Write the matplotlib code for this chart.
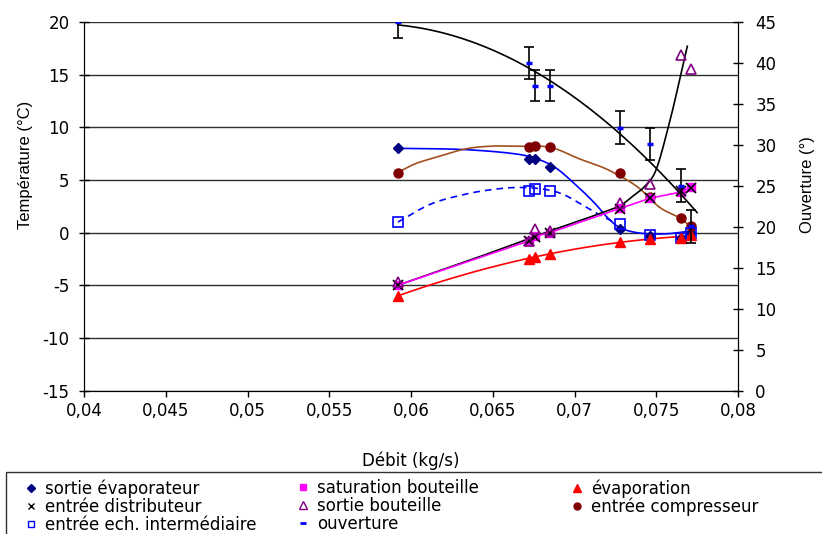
import numpy as np
import matplotlib
matplotlib.use('Agg')
import matplotlib.pyplot as plt
from matplotlib.lines import Line2D
from matplotlib.patches import Rectangle
from matplotlib.ticker import FuncFormatter, MultipleLocator

plt.rcParams['font.family'] = ['DejaVu Sans']
plt.rcParams['axes.unicode_minus'] = False

debit = [0.0592, 0.0672, 0.0676, 0.0685, 0.0728, 0.0746, 0.0765, 0.0771]
sortie_evap = [8.0, 6.95, 6.95, 6.2, 0.35, -0.35, -0.5, 0.0]
saturation = [-5.0, -0.8, -0.35, 0.0, 2.3, 3.25, 3.85, 4.3]
evaporation = [-6.0, -2.5, -2.3, -2.0, -0.85, -0.6, -0.55, -0.2]
entree_distrib = [-5.0, -0.8, -0.4, 0.0, 2.2, 3.3, 3.95, 4.2]
sortie_bout = [-4.7, -0.8, 0.3, 0.15, 2.85, 4.6, 16.85, 15.5]
entree_comp = [5.7, 8.1, 8.2, 8.1, 5.7, 3.35, 1.4, 0.6]
entree_ech = [1.0, 3.95, 4.1, 3.95, 0.8, -0.25, -0.55, 0.0]
ouverture = [45.0, 40.0, 37.2, 37.2, 32.1, 30.1, 25.0, 20.05]
ouv_err = [2.0, 2.0, 1.9, 1.9, 2.0, 2.0, 2.0, 2.0]

# smoothed curves, also
evap_cx = [0.0592, 0.0630, 0.0660, 0.0675, 0.0688, 0.0701, 0.0712, 0.0720, 0.0728, 0.0740, 0.0756, 0.0771]
evap_cy = [8.0, 7.9, 7.55, 7.1, 6.2, 4.5, 2.85, 1.45, 0.45, -0.05, -0.12, 0.15]
ech_cx = [0.0592, 0.0612, 0.0632, 0.0648, 0.0664, 0.0680, 0.0692, 0.0703, 0.0714, 0.0724]
ech_cy = [1.0, 2.7, 3.6, 4.05, 4.28, 4.15, 3.7, 2.8, 1.8, 1.0]
comp_cx = [0.0592, 0.0602, 0.0612, 0.0632, 0.0648, 0.0665, 0.0685, 0.0703, 0.0720, 0.0738, 0.0752, 0.0765, 0.0771]
comp_cy = [5.7, 6.5, 7.0, 7.9, 8.2, 8.2, 8.1, 7.0, 6.0, 4.4, 2.4, 1.35, 0.5]
bout_cx = [0.0592, 0.0640, 0.0685, 0.0710, 0.0727, 0.0736, 0.0743, 0.0750, 0.0758, 0.0764, 0.0769]
bout_cy = [-5.0, -2.4, 0.15, 1.5, 2.5, 3.5, 4.4, 6.0, 10.4, 14.3, 17.7]


def smooth(xs, ys, n=25):
    # Catmull-Rom, like a spreadsheet "smoothed line"
    p = np.column_stack([xs, ys]).astype(float)
    p = np.vstack([2*p[0]-p[1], p, 2*p[-1]-p[-2]])
    t = np.linspace(0, 1, n)[:, None]
    out = []
    for i in range(1, len(p)-2):
        p0, p1, p2, p3 = p[i-1], p[i], p[i+1], p[i+2]
        out.append(0.5*(2*p1 + (p2-p0)*t + (2*p0-5*p1+4*p2-p3)*t**2
                        + (3*p1-p0-3*p2+p3)*t**3))
    out = np.vstack(out)
    return out[:, 0], out[:, 1]


def trend(x, y, deg, x_end=None):
    p = np.polynomial.Polynomial.fit(x, y, deg)
    xs = np.linspace(min(x), x_end if x_end else max(x), 300)
    return xs, p(xs)


fig = plt.figure(figsize=(8.22, 5.34), dpi=100)
ax = fig.add_axes([84/822, 1-390.5/534, (738-84)/822, (390.5-22)/534])
ax2 = ax.twinx()

ax.set_xlim(0.04, 0.08)
ax.set_ylim(-15, 20)
ax2.set_ylim(0, 45)
ax.xaxis.set_major_locator(MultipleLocator(0.005))
ax.yaxis.set_major_locator(MultipleLocator(5))
ax2.yaxis.set_major_locator(MultipleLocator(5))
comma = FuncFormatter(lambda v, p: f'{v:g}'.replace('.', ','))
ax.xaxis.set_major_formatter(comma)
ax.yaxis.set_major_formatter(comma)
ax2.yaxis.set_major_formatter(comma)

ax.yaxis.grid(True, color='#303030', lw=1)
ax.set_axisbelow(True)
for a in (ax, ax2):
    a.spines['top'].set_visible(False)

ax.tick_params(axis='x', direction='out', length=4, width=1, pad=4, labelsize=12)
ax.tick_params(axis='y', direction='inout', length=7, width=1, pad=7, labelsize=12)
ax2.tick_params(axis='y', direction='inout', length=7, width=1, pad=9, labelsize=12)

# temperature series
ax.plot(*smooth(evap_cx, evap_cy), color='#0000FF', lw=1.2)
ax.plot(*smooth(ech_cx, ech_cy), color='#0000FF', lw=1.2, ls=(0, (4, 3)))
ax.plot(*smooth(comp_cx, comp_cy), color='#A0501E', lw=1.2)
ax.plot(*smooth(bout_cx, bout_cy), color='black', lw=1.2)
ax.plot(debit, saturation, '-', color='#FF00FF', lw=1.2)
ax.plot(*trend(debit, evaporation, 2), color='#FF0000', lw=1.2)

ax.plot(debit, sortie_evap, 'D', color='#000080', ms=5.5, ls='none')
ax.plot(debit, entree_comp, 'o', color='#800000', ms=6.5, ls='none')
ax.plot(debit, entree_ech, 's', mfc='none', mec='#0000FF', ms=6.5, mew=1.2, ls='none')
ax.plot(debit, evaporation, '^', color='#FF0000', ms=7, ls='none')
ax.plot(debit, saturation, 's', color='#FF00FF', ms=5.5, ls='none')
ax.plot(debit, entree_distrib, 'x', color='black', ms=7, mew=1.2, ls='none')
ax.plot(debit, sortie_bout, '^', mfc='none', mec='#800080', ms=7.5, mew=1.2, ls='none')

# ouverture on the right axis
ax2.errorbar(debit, ouverture, yerr=ouv_err, fmt='none', ecolor='black',
             capsize=3.4, elinewidth=1.2, capthick=1.2)
ax2.plot(debit, ouverture, '_', color='#0000FF', ms=4, mew=2.5, ls='none')
ax2.plot(*trend(debit, ouverture, 2, 0.0775), color='black', lw=1.2)

ax.set_xlabel('Débit (kg/s)', fontsize=12, labelpad=23)
ax.set_ylabel('Température (°C)', fontsize=12, family=['Liberation Sans', 'DejaVu Sans'])
ax.yaxis.set_label_coords(-0.078, (390.5-165)/368.5)
ax2.set_ylabel('Ouverture (°)', fontsize=12, family=['Liberation Sans', 'DejaVu Sans'])
ax2.yaxis.set_label_coords(1 + (800-738)/654, (390.5-185)/368.5)

# legend, three columns
h = {
    'sortie évaporateur': Line2D([], [], ls='none', marker='D', color='#000080', ms=4),
    'entrée distributeur': Line2D([], [], ls='none', marker='x', color='black', ms=5, mew=1),
    'entrée ech. intermédiaire': Line2D([], [], ls='none', marker='s', mfc='none', mec='#0000FF', ms=5, mew=1),
    'saturation bouteille': Line2D([], [], ls='none', marker='s', color='#FF00FF', ms=5),
    'sortie bouteille': Line2D([], [], ls='none', marker='^', mfc='none', mec='#800080', ms=6, mew=1),
    'ouverture': Line2D([], [], ls='none', marker='_', color='#0000FF', ms=4, mew=2),
    'évaporation': Line2D([], [], ls='none', marker='^', color='#FF0000', ms=6),
    'entrée compresseur': Line2D([], [], ls='none', marker='o', color='#800000', ms=5),
}
columns = [
    ['sortie évaporateur', 'entrée distributeur', 'entrée ech. intermédiaire'],
    ['saturation bouteille', 'sortie bouteille', 'ouverture'],
    ['évaporation', 'entrée compresseur'],
]
col_x = [26, 298, 572]
for cx, labels in zip(col_x, columns):
    fig.legend([h[l] for l in labels], labels, loc='upper left',
               bbox_to_anchor=(cx/822, 1-479/534), frameon=False,
               borderpad=0, borderaxespad=0, handlelength=0.6,
               handletextpad=0.55, labelspacing=0.0, fontsize=12)

fig.add_artist(Rectangle((6/822, -0.05), 1.0, (534-472)/534+0.05,
                         transform=fig.transFigure, fill=False,
                         edgecolor='#303030', lw=1))

fig.savefig('out.png', dpi=100)
